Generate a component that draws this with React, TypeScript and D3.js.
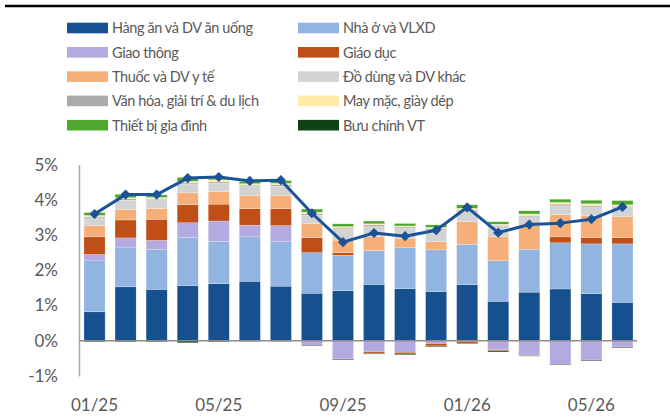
import React, { useRef, useEffect } from 'react';
import * as d3 from 'd3';

const months = ['01/25', '02/25', '03/25', '04/25', '05/25', '06/25', '07/25', '08/25', '09/25',
  '10/25', '11/25', '12/25', '01/26', '02/26', '03/26', '04/26', '05/26', '06/26'];
const tickMonths = ['01/25', '05/25', '09/25', '01/26', '05/26'];
const yTicks = [-1, 0, 1, 2, 3, 4, 5];

// contribution to CPI YoY, percentage points
const food = [0.82, 1.53, 1.46, 1.56, 1.62, 1.69, 1.55, 1.35, 1.42, 1.60, 1.48, 1.39, 1.59, 1.12, 1.38, 1.47, 1.34, 1.09];
const housing = [1.47, 1.13, 1.13, 1.37, 1.20, 1.26, 1.26, 1.15, 1.01, 0.96, 1.16, 1.19, 1.15, 1.15, 1.22, 1.31, 1.41, 1.66];
const transport = [0.16, 0.26, 0.26, 0.42, 0.58, 0.33, 0.46, -0.13, -0.52, -0.32, -0.33, -0.08, -0.02, -0.26, -0.41, -0.67, -0.55, -0.18];
const education = [0.50, 0.51, 0.60, 0.51, 0.48, 0.47, 0.48, 0.43, 0.07, -0.04, -0.05, -0.07, -0.05, -0.03, -0.02, 0.17, 0.18, 0.18];
const medicine = [0.32, 0.30, 0.30, 0.34, 0.35, 0.37, 0.37, 0.39, 0.36, 0.39, 0.27, 0.23, 0.64, 0.68, 0.67, 0.63, 0.62, 0.59];
const household = [0.22, 0.26, 0.26, 0.24, 0.24, 0.26, 0.27, 0.25, 0.30, 0.29, 0.28, 0.33, 0.28, 0.29, 0.25, 0.25, 0.25, 0.26];
const culture = [0.04, 0.04, 0.03, 0.04, 0.04, 0.04, 0.04, 0.04, 0.04, 0.05, 0.04, 0.04, 0.05, 0.04, 0.04, 0.05, 0.04, 0.04];
const apparel = [0.03, 0.03, 0.03, 0.05, 0.06, 0.04, 0.04, 0.04, 0.04, 0.03, 0.03, 0.04, 0.05, 0.03, 0.04, 0.05, 0.05, 0.04];
const appliances = [0.08, 0.10, 0.07, 0.11, 0.04, 0.06, 0.08, 0.09, 0.08, 0.08, 0.07, 0.07, 0.10, 0.07, 0.09, 0.09, 0.10, 0.12];
const postal = [-0.03, -0.03, -0.03, -0.06, -0.03, -0.02, -0.02, -0.02, -0.02, -0.02, -0.02, -0.02, -0.02, -0.03, -0.01, -0.02, -0.02, -0.02];
const total = [3.60, 4.15, 4.15, 4.62, 4.65, 4.54, 4.56, 3.62, 2.80, 3.06, 2.97, 3.14, 3.79, 3.07, 3.30, 3.34, 3.45, 3.80];

const series = [
  { key: 'food', name: 'Hàng ăn và DV ăn uống', color: '#17508f', values: food },
  { key: 'housing', name: 'Nhà ở và VLXD', color: '#92b4e0', values: housing },
  { key: 'transport', name: 'Giao thông', color: '#b5a9e2', values: transport },
  { key: 'education', name: 'Giáo dục', color: '#bf4f16', values: education },
  { key: 'medicine', name: 'Thuốc và DV y tế', color: '#f7af79', values: medicine },
  { key: 'household', name: 'Đồ dùng và DV khác', color: '#d3d3d3', values: household },
  { key: 'culture', name: 'Văn hóa, giải trí & du lịch', color: '#ababab', values: culture },
  { key: 'apparel', name: 'May mặc, giày dép', color: '#feeba7', values: apparel },
  { key: 'appliances', name: 'Thiết bị gia đình', color: '#4ea72e', values: appliances },
  { key: 'postal', name: 'Bưu chính VT', color: '#0f4119', values: postal },
];

const FONT = 'Lato, sans-serif';
const TEXT = '#595959';

export default function App() {
  const svgRef = useRef(null);

  useEffect(() => {
    document.body.style.margin = '0';
    const svg = d3.select(svgRef.current);
    svg.selectAll('*').remove();

    const x = d3.scaleBand().domain(months).range([79, 638]).paddingInner(0.32).paddingOuter(0.16);
    const y = d3.scaleLinear().domain([-1, 5]).range([375.9, 164.7]);

    // top rule
    svg.append('line').attr('x1', 5).attr('x2', 670).attr('y1', 6).attr('y2', 6)
      .attr('stroke', '#000').attr('stroke-width', 2.4);

    // legend
    const legend = svg.append('g');
    series.forEach((s, i) => {
      const col = i % 2;
      const row = Math.floor(i / 2);
      const g = legend.append('g').attr('transform', `translate(${col ? 298 : 67},${28 + row * 24.3})`);
      g.append('rect').attr('x', 0).attr('y', -5.3).attr('width', 41).attr('height', 10.6).attr('fill', s.color);
      g.append('text').attr('x', 45).attr('y', 5.3).attr('font-family', FONT).attr('font-size', 14.5)
        .attr('letter-spacing', -0.4).attr('fill', TEXT).text(s.name);
    });

    const table = months.map((m, i) => {
      const row: any = { month: m };
      series.forEach((s) => { row[s.key] = s.values[i]; });
      return row;
    });
    const stacked = d3.stack().keys(series.map((s) => s.key)).offset(d3.stackOffsetDiverging)(table);

    const bars = svg.append('g');
    stacked.forEach((layer, li) => {
      bars.append('g').attr('fill', series[li].color)
        .selectAll('rect')
        .data(layer)
        .enter()
        .append('rect')
        .attr('x', (d: any) => x(d.data.month))
        .attr('width', x.bandwidth())
        .attr('y', (d) => y(Math.max(d[0], d[1])))
        .attr('height', (d) => Math.abs(y(d[0]) - y(d[1])))
        .attr('stroke', '#ffffff')
        .attr('stroke-width', 0.4)
        .attr('stroke-opacity', 0.6);
    });

    // y axis
    const yAxis = svg.append('g').attr('transform', 'translate(79,0)')
      .call(d3.axisLeft(y).tickValues(yTicks).tickSize(0).tickPadding(21).tickFormat((d) => `${d}%`));
    yAxis.select('.domain').attr('stroke', '#a6a6a6').attr('stroke-width', 1.5);
    yAxis.selectAll('text').attr('font-family', FONT).attr('font-size', 17).attr('fill', TEXT);

    // zero line
    svg.append('line').attr('x1', 79).attr('x2', 637).attr('y1', y(0)).attr('y2', y(0))
      .attr('stroke', '#8c8c8c').attr('stroke-width', 1.5);

    // x axis labels
    const xAxis = svg.append('g').attr('transform', 'translate(0,393)')
      .call(d3.axisBottom(x).tickValues(tickMonths).tickSize(0).tickPadding(0));
    xAxis.select('.domain').remove();
    xAxis.selectAll('text').attr('font-family', FONT).attr('font-size', 17).attr('fill', TEXT).attr('dy', '1.05em');

    // total line
    const cx = (i: number) => (x(months[i]) as number) + x.bandwidth() / 2;
    const line = d3.line<number>().x((d, i) => cx(i)).y((d) => y(d));
    svg.append('path').datum(total).attr('fill', 'none').attr('stroke', '#1a5396')
      .attr('stroke-width', 3).attr('stroke-linejoin', 'round').attr('d', line);
    svg.append('g').selectAll('path').data(total).enter().append('path')
      .attr('transform', (d, i) => `translate(${cx(i)},${y(d)})`)
      .attr('d', d3.symbol().type(d3.symbolDiamond2).size(66)())
      .attr('fill', '#1a5396');
  }, []);

  return <svg ref={svgRef} width={670} height={417} style={{ display: 'block' }} />;
}
